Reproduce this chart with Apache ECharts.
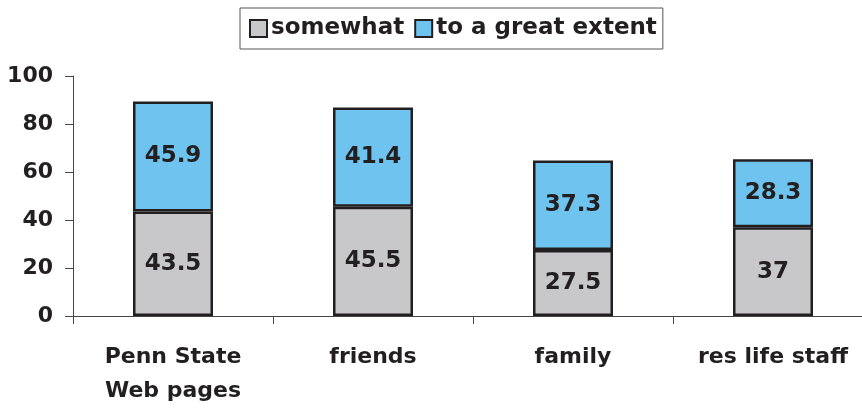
<!DOCTYPE html>
<html>
<head>
<meta charset="utf-8">
<script src="https://cdn.jsdelivr.net/npm/echarts@6/dist/echarts.min.js"></script>
<style>
  html, body { margin: 0; padding: 0; background: #fff; overflow: hidden; }
  /* the plot runs slightly past the right edge of the window */
  #chart { width: 880px; height: 408px; }
</style>
</head>
<body>
<div id="chart"></div>
<script>
// Sources of information, share of respondents (%)
const categories = ['Penn State\nWeb pages', 'friends', 'family', 'res life staff'];
const somewhat = [43.5, 45.5, 27.5, 37];
const greatExtent = [45.9, 41.4, 37.3, 28.3];
const yTicks = [0, 20, 40, 60, 80, 100];

const ink = '#231f20';
const font = '"DejaVu Sans", Verdana, sans-serif';

const chart = echarts.init(document.getElementById('chart'), null, { renderer: 'canvas' });

const barLabel = {
  show: true,
  position: 'inside',
  color: ink,
  fontFamily: font,
  fontWeight: 'bold',
  fontSize: 23
};

chart.setOption({
  animation: false,
  textStyle: { fontFamily: font },
  legend: {
    top: 8,
    left: 240,
    itemGap: 10,
    itemWidth: 17,
    itemHeight: 17,
    padding: [9, 6, 9, 9],
    borderColor: '#555',
    borderWidth: 1,
    icon: 'rect',
    textStyle: { color: ink, fontFamily: font, fontWeight: 'bold', fontSize: 23, padding: [0, 0, 0, -1] },
    data: ['somewhat', 'to a great extent']
  },
  grid: { left: 73, top: 76, width: 800, bottom: 92 },
  xAxis: {
    type: 'category',
    data: categories,
    boundaryGap: true,
    axisLine: { lineStyle: { color: '#444', width: 1 } },
    axisTick: { show: true, length: 8, lineStyle: { color: '#444' } },
    axisLabel: {
      color: ink,
      fontFamily: font,
      fontWeight: 'bold',
      fontSize: 22,
      lineHeight: 34,
      margin: 24
    }
  },
  yAxis: {
    type: 'value',
    min: yTicks[0],
    max: yTicks[yTicks.length - 1],
    interval: 20,
    splitLine: { show: false },
    axisLine: { show: true, lineStyle: { color: '#444', width: 1 } },
    axisTick: { show: true, length: 8, lineStyle: { color: '#444' } },
    axisLabel: {
      color: ink,
      fontFamily: font,
      fontWeight: 'bold',
      fontSize: 22,
      margin: 20
    }
  },
  series: [
    {
      name: 'somewhat',
      type: 'bar',
      stack: 'total',
      barWidth: 80,
      data: somewhat,
      itemStyle: { color: '#c8c8ca', borderColor: ink, borderWidth: 2.5 },
      label: barLabel
    },
    {
      name: 'to a great extent',
      type: 'bar',
      stack: 'total',
      barWidth: 80,
      data: greatExtent,
      itemStyle: { color: '#6ec4ee', borderColor: ink, borderWidth: 2.5 },
      label: barLabel
    }
  ]
});
</script>
</body>
</html>
